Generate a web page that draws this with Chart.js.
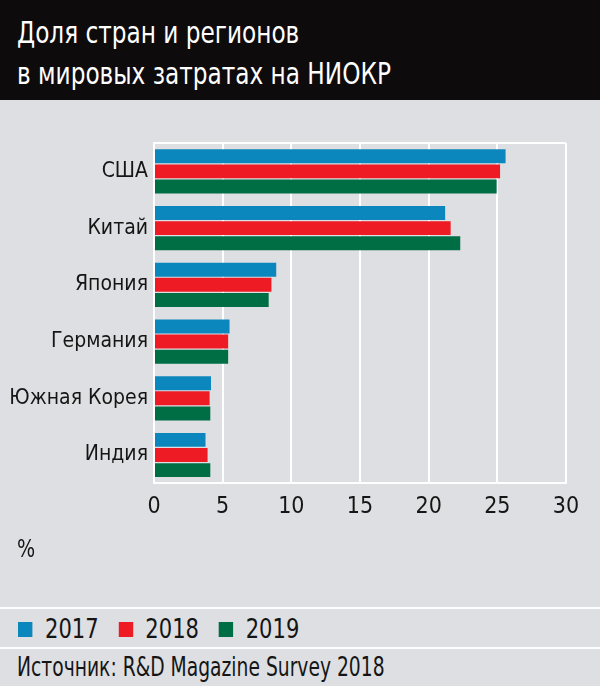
<!DOCTYPE html>
<html><head><meta charset="utf-8">
<script src="https://cdn.jsdelivr.net/npm/chart.js@4"></script>
<style>
html,body{margin:0;padding:0;}
body{width:600px;height:686px;background:#dedfe2;position:relative;overflow:hidden;font-family:"Liberation Sans Narrow","DejaVu Sans Condensed",sans-serif;color:#151515;}
#title{position:absolute;left:0;top:0;width:600px;height:100px;background:#0e0b0c;color:#fff;}
#title div{position:absolute;left:17px;top:12px;font-size:30px;line-height:41px;transform:scaleX(0.86);transform-origin:0 0;white-space:nowrap;}
#wrap{position:absolute;left:0;top:100px;width:600px;height:500px;}
#pct{position:absolute;left:17px;top:534px;font-size:25px;transform:scaleX(0.85);transform-origin:0 0;}
.sep{position:absolute;left:0;width:600px;height:2px;background:#fff;}
#legend{position:absolute;left:18px;top:614px;font-size:26px;display:flex;align-items:center;transform:scaleX(0.9);transform-origin:0 0;white-space:nowrap;}
#legend span.item{display:flex;align-items:center;margin-right:22px;}
#legend i{display:inline-block;width:16px;height:15px;margin-right:14px;}
#src{position:absolute;left:17px;top:652px;font-size:26px;transform:scaleX(0.8);transform-origin:0 0;white-space:nowrap;}
</style></head>
<body>
<div id="title"><div>Доля стран и регионов<br>в мировых затратах на НИОКР</div></div>
<div id="wrap"><canvas id="c"></canvas></div>
<div id="pct">%</div>
<div class="sep" style="top:607px"></div>
<div id="legend"></div>
<div class="sep" style="top:647px"></div>
<div id="src">Источник: R&amp;D Magazine Survey 2018</div>
<script>
const categories = ["США","Китай","Япония","Германия","Южная Корея","Индия"];
const seriesNames = ["2017","2018","2019"];
const values2017 = [25.6, 21.2, 8.9, 5.5, 4.15, 3.75];
const values2018 = [25.2, 21.6, 8.55, 5.4, 4.05, 3.9];
const values2019 = [24.95, 22.3, 8.35, 5.4, 4.1, 4.1];
const xTicks = [0,5,10,15,20,25,30];
const colors = ["#0b87bd","#ee1b24","#006e45"];

const FONT = '"Liberation Sans Narrow","DejaVu Sans Condensed",sans-serif';
const allValues = [values2017, values2018, values2019];

document.getElementById('legend').innerHTML = seriesNames.map((n,i)=>
  `<span class="item"><i style="background:${colors[i]}"></i>${n}</span>`).join('');

new Chart(document.getElementById('c'), {
  type: 'bar',
  data: {
    labels: categories,
    datasets: seriesNames.map((n,i)=>({
      label: n, data: allValues[i], backgroundColor: colors[i],
      borderWidth: 0, barPercentage: 0.92, categoryPercentage: 0.8
    }))
  },
  options: {
    indexAxis: 'y',
    responsive: true, maintainAspectRatio: false, animation: false,
    layout: { padding: { top: 43, right: 34, left: 0, bottom: 69 } },
    plugins: { legend: { display: false }, tooltip: { enabled: false } },
    scales: {
      x: {
        min: 0, max: 30,
        afterBuildTicks: s => { s.ticks = xTicks.map(v=>({value:v})); },
        grid: { color: '#ffffff', lineWidth: 2, drawTicks: false },
        border: { color: '#ffffff', width: 2 },
        ticks: { color: '#151515', font: { family: FONT, size: 23 }, padding: 10 }
      },
      y: {
        afterFit: s => { s.width = 154; },
        grid: {
          offset: true, drawTicks: false, lineWidth: 2,
          color: ctx => (ctx.index === 0 || ctx.index === categories.length) ? '#ffffff' : 'rgba(0,0,0,0)'
        },
        border: { color: '#ffffff', width: 2 },
        ticks: { color: '#151515', font: { family: FONT, size: 21 }, padding: 6 }
      }
    }
  }
});
</script>
</body></html>
